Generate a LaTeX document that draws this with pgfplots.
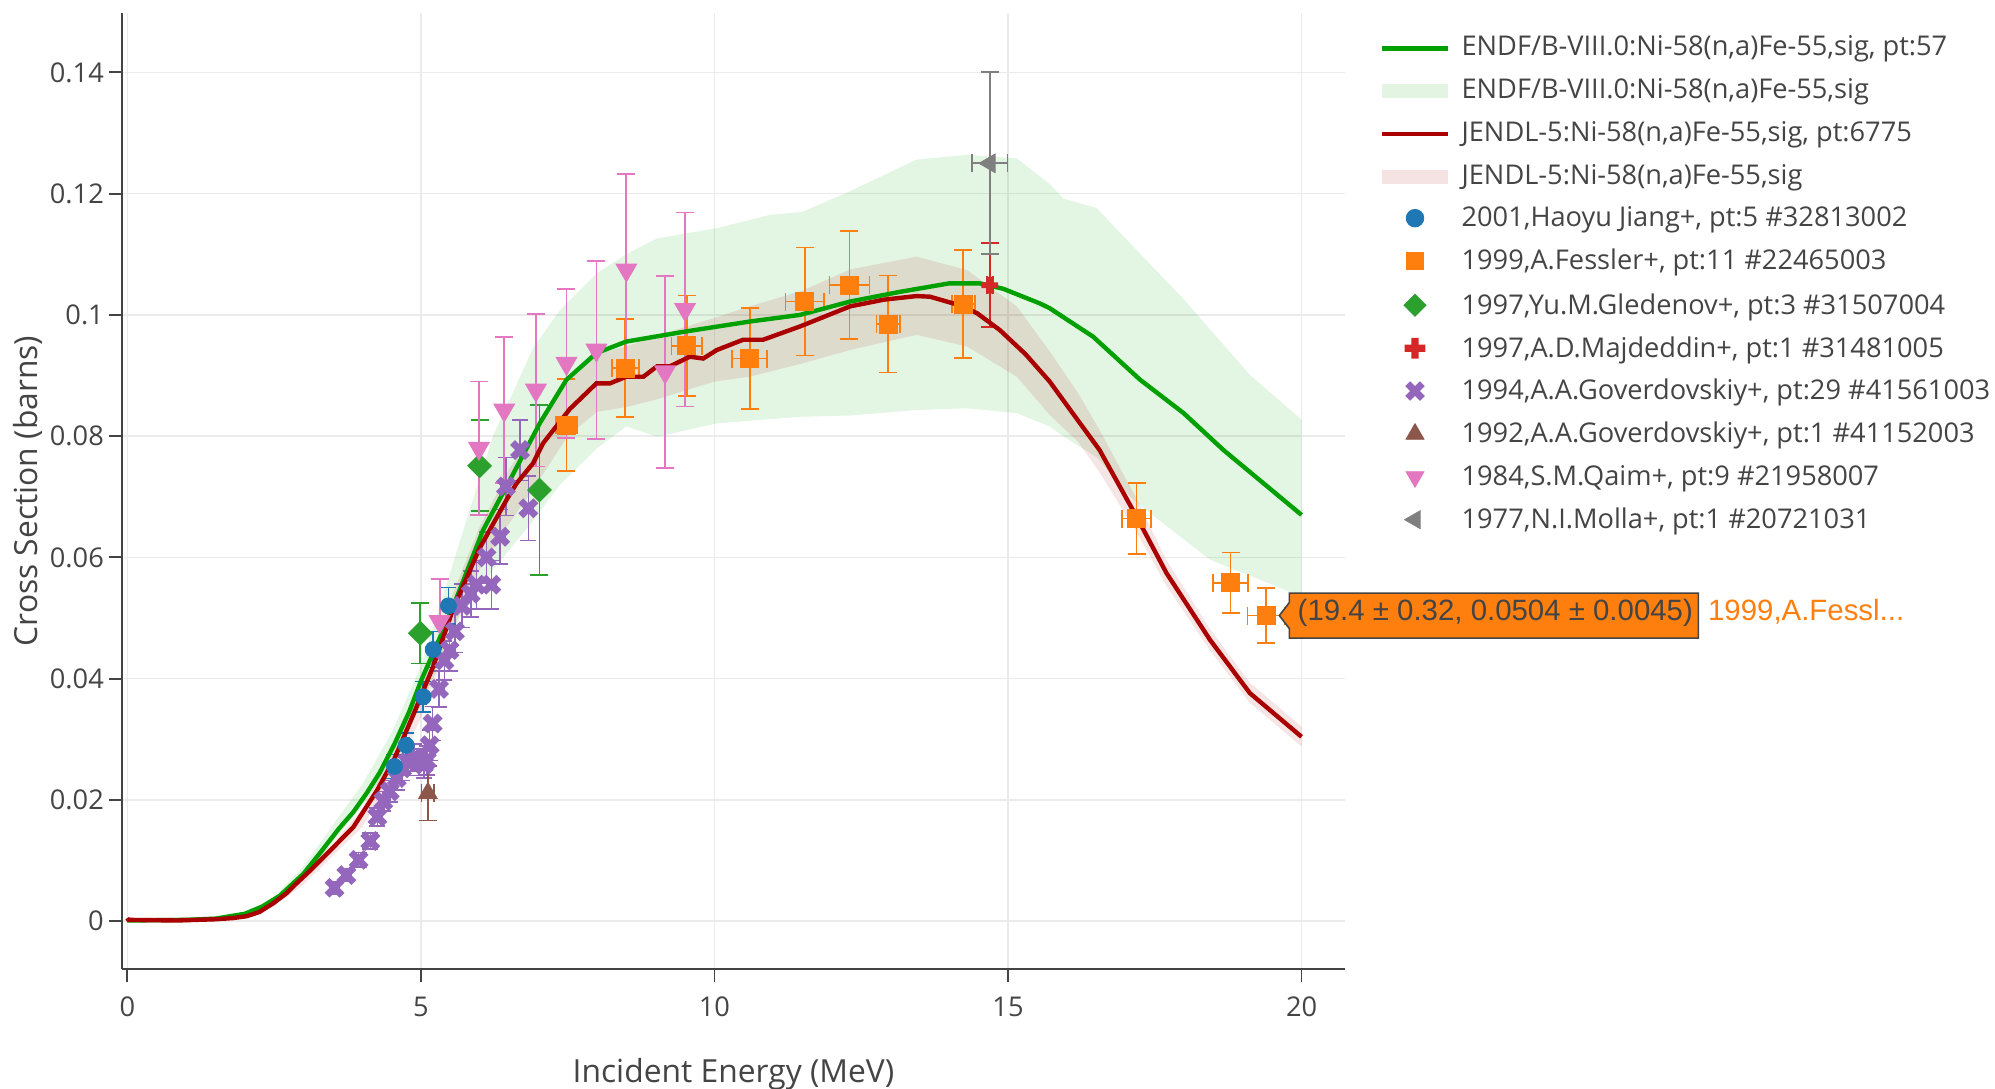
\documentclass[border=0pt]{standalone}
\usepackage{fontspec}
\setmainfont{Open Sans}
\newfontfamily\tipfont{Liberation Sans}
\usepackage{pgfplots}
\pgfplotsset{compat=1.18}
\usepgfplotslibrary{fillbetween}
\definecolor{endfgreen}{RGB}{0,160,0}
\definecolor{jendlred}{RGB}{170,0,0}
\definecolor{pblue}{HTML}{1F77B4}
\definecolor{porange}{HTML}{FF7F0E}
\definecolor{pgreen}{HTML}{2CA02C}
\definecolor{pred}{HTML}{D62728}
\definecolor{ppurple}{HTML}{9467BD}
\definecolor{pbrown}{HTML}{8C564B}
\definecolor{ppink}{HTML}{E377C2}
\definecolor{pgray}{HTML}{7F7F7F}
\definecolor{axgray}{HTML}{444444}
\definecolor{gridgray}{HTML}{EBEBEB}
\definecolor{gband}{HTML}{E3F4E3}
\definecolor{rband}{HTML}{F5E3E3}
\newcommand{\fs}{\fontsize{13.6}{16}\selectfont}
% fat X (plotly "x")
\pgfdeclareplotmark{fatx}{%
  \pgfmathsetlengthmacro\mP{0.9405*\pgfplotmarksize}%
  \pgfmathsetlengthmacro\mQ{0.4738*\pgfplotmarksize}%
  \pgfmathsetlengthmacro\mR{0.4667*\pgfplotmarksize}%
  \pgfpathmoveto{\pgfqpoint{-\mQ}{\mP}}%
  \pgfpathlineto{\pgfqpoint{0pt}{\mR}}%
  \pgfpathlineto{\pgfqpoint{\mQ}{\mP}}%
  \pgfpathlineto{\pgfqpoint{\mP}{\mQ}}%
  \pgfpathlineto{\pgfqpoint{\mR}{0pt}}%
  \pgfpathlineto{\pgfqpoint{\mP}{-\mQ}}%
  \pgfpathlineto{\pgfqpoint{\mQ}{-\mP}}%
  \pgfpathlineto{\pgfqpoint{0pt}{-\mR}}%
  \pgfpathlineto{\pgfqpoint{-\mQ}{-\mP}}%
  \pgfpathlineto{\pgfqpoint{-\mP}{-\mQ}}%
  \pgfpathlineto{\pgfqpoint{-\mR}{0pt}}%
  \pgfpathlineto{\pgfqpoint{-\mP}{\mQ}}%
  \pgfpathclose
  \pgfusepathqfill
}
% fat plus (plotly "cross")
\pgfdeclareplotmark{fatplus}{%
  \pgfmathsetlengthmacro\mL{\pgfplotmarksize}%
  \pgfmathsetlengthmacro\mA{0.34*\pgfplotmarksize}%
  \pgfpathmoveto{\pgfqpoint{\mA}{\mL}}%
  \pgfpathlineto{\pgfqpoint{\mA}{\mA}}%
  \pgfpathlineto{\pgfqpoint{\mL}{\mA}}%
  \pgfpathlineto{\pgfqpoint{\mL}{-\mA}}%
  \pgfpathlineto{\pgfqpoint{\mA}{-\mA}}%
  \pgfpathlineto{\pgfqpoint{\mA}{-\mL}}%
  \pgfpathlineto{\pgfqpoint{-\mA}{-\mL}}%
  \pgfpathlineto{\pgfqpoint{-\mA}{-\mA}}%
  \pgfpathlineto{\pgfqpoint{-\mL}{-\mA}}%
  \pgfpathlineto{\pgfqpoint{-\mL}{\mA}}%
  \pgfpathlineto{\pgfqpoint{-\mA}{\mA}}%
  \pgfpathlineto{\pgfqpoint{-\mA}{\mL}}%
  \pgfpathclose
  \pgfusepathqfill
}
% square diamond
\pgfdeclareplotmark{pdiamond}{%
  \pgfpathmoveto{\pgfqpoint{0pt}{\pgfplotmarksize}}%
  \pgfpathlineto{\pgfqpoint{\pgfplotmarksize}{0pt}}%
  \pgfpathlineto{\pgfqpoint{0pt}{-\pgfplotmarksize}}%
  \pgfpathlineto{\pgfqpoint{-\pgfplotmarksize}{0pt}}%
  \pgfpathclose
  \pgfusepathqfill
}
\newcommand{\lbox}{\path[draw=none,fill=none] (0pt,-6.5pt) rectangle (33pt,6.5pt);}
\begin{document}
\begin{tikzpicture}
\begin{axis}[
  scale only axis, width=611.5pt, height=478pt,
  xmin=-0.09, xmax=20.74, ymin=-0.0079, ymax=0.1498,
  axis x line*=bottom, axis y line*=left,
  axis line style={-, draw=axgray, line width=0.9pt},
  xtick={0,5,10,15,20}, xticklabels={0,5,10,15,20},
  ytick={0,0.02,0.04,0.06,0.08,0.1,0.12,0.14},
  yticklabels={0,0.02,0.04,0.06,0.08,0.1,0.12,0.14},
  tick align=outside, major tick length=6.4pt,
  tick style={draw=axgray, line width=0.9pt},
  grid=major, major grid style={draw=gridgray, line width=0.7pt},
  tick label style={font=\fs, text=axgray},
  yticklabel style={inner sep=0pt, xshift=-2.5pt},
  xticklabel style={inner sep=0pt, yshift=-7.2pt},
  xlabel={Incident Energy (MeV)}, ylabel={Cross Section (barns)},
  label style={font=\fontsize{15.9}{19}\selectfont, text=axgray},
  xlabel style={at={(axis description cs:0.5,-0.1096)}, anchor=center},
  ylabel style={at={(axis description cs:-0.0768,0.5)}, anchor=center},
  legend style={at={(1,1)}, anchor=north west, xshift=17.2pt, yshift=-11.65pt,
    draw=none, fill=none, inner sep=0pt, font=\fs, text=axgray, row sep=8.41pt,
    nodes={inner sep=0pt, text height=9.5pt, text depth=3.5pt},
    /tikz/every odd column/.append style={column sep=5.7pt}},
  legend cell align=left,
]
% ENDF band
\addplot[name path=gU, draw=none, forget plot] coordinates {
(0,0.0002) (1.5,0.0005) (2,0.0014) (2.5,0.0040) (3,0.0090) (3.5,0.0158) (4,0.0225)
(4.5,0.0310) (5,0.0420) (5.66,0.0625) (6.23,0.0800) (6.91,0.0945) (7.37,0.1008)
(8.0,0.1069) (8.5,0.1100) (9.02,0.1126) (10.04,0.1143) (10.95,0.1165) (11.5,0.1170)
(12.31,0.1204) (13.44,0.1256) (14.3,0.1264) (15.15,0.1258) (15.71,0.1216) (15.94,0.1192)
(16.51,0.1176) (18.0,0.1025) (19.12,0.0901) (20,0.0827)};
\addplot[name path=gL, draw=none, forget plot] coordinates {
(0,0.0000) (1.5,0.0003) (2,0.0010) (2.5,0.0030) (3,0.0070) (3.5,0.0130) (4,0.0190)
(4.5,0.0260) (5,0.0355) (5.66,0.0500) (6.23,0.0580) (6.91,0.0660) (7.37,0.0720)
(8.0,0.0780) (8.5,0.0816) (9.02,0.0799) (10.04,0.0821) (10.95,0.0828) (11.5,0.0832)
(12.31,0.0834) (13.44,0.0843) (14.3,0.0846) (15.15,0.0838) (15.71,0.0816) (15.94,0.0800)
(16.51,0.0765) (17.13,0.0695) (18.44,0.0596) (19.12,0.0570) (20,0.0535)};
\addplot[fill=endfgreen, fill opacity=0.11, draw=none, forget plot] fill between[of=gU and gL];
% JENDL band
\addplot[name path=rU, draw=none, forget plot] coordinates {
(0,0.0005) (2,0.0009) (2.5,0.0033) (3,0.0080) (3.5,0.0128) (4,0.0185) (4.5,0.0275)
(5,0.0385) (5.5,0.0530) (6,0.0650) (6.5,0.0745) (7,0.0815) (7.5,0.0888) (8,0.0935)
(8.5,0.0948) (9,0.0965) (10,0.0995) (10.6,0.1014) (11.5,0.1040) (12.31,0.1075)
(13.44,0.1096) (14.3,0.1074) (15.15,0.1014) (15.71,0.0940) (16.2,0.0870) (16.56,0.0810)
(17.2,0.0695) (17.7,0.0595) (18.44,0.0482) (19.12,0.0393) (20,0.0321)};
\addplot[name path=rL, draw=none, forget plot] coordinates {
(0,0.0001) (2,0.0005) (2.5,0.0025) (3,0.0060) (3.5,0.0108) (4,0.0155) (4.5,0.0235)
(5,0.0335) (5.5,0.0470) (6,0.0580) (6.5,0.0655) (7,0.0725) (7.5,0.0800) (8,0.0840)
(8.5,0.0848) (9,0.0860) (10,0.0890) (10.6,0.0898) (11.5,0.0920) (12.31,0.0942)
(13.44,0.0967) (14.3,0.0948) (15.15,0.0898) (15.71,0.0835) (16.2,0.0790) (16.56,0.0740)
(17.2,0.0640) (17.7,0.0553) (18.44,0.0447) (19.12,0.0360) (20,0.0288)};
\addplot[fill=jendlred, fill opacity=0.10, draw=none, forget plot] fill between[of=rU and rL];
% 1994 Goverdovskiy
\addplot[only marks, mark=fatx, mark size=5.3pt, color=ppurple, forget plot,
  error bars/.cd, x dir=both, x explicit, y dir=both, y explicit,
  error bar style={line width=0.8pt, ppurple}, error mark options={rotate=90, ppurple, mark size=4pt, line width=0.8pt}]
coordinates {
(3.53,0.0055) +- (0.08,0.0010) (3.73,0.0076) +- (0.08,0.0010) (3.94,0.0101) +- (0.08,0.0012)
(4.14,0.0132) +- (0.08,0.0013) (4.26,0.0172) +- (0.08,0.0015) (4.36,0.0198) +- (0.08,0.0016)
(4.47,0.0214) +- (0.08,0.0018) (4.59,0.0236) +- (0.08,0.0020) (4.68,0.0252) +- (0.08,0.0020)
(4.78,0.0262) +- (0.08,0.0022) (4.88,0.0270) +- (0.08,0.0022) (4.97,0.0262) +- (0.08,0.0022)
(5.05,0.0258) +- (0.08,0.0022) (5.10,0.0265) +- (0.08,0.0024) (5.15,0.0290) +- (0.08,0.0025)
(5.20,0.0326) +- (0.08,0.0028) (5.31,0.0383) +- (0.08,0.0030) (5.40,0.0430) +- (0.08,0.0032)
(5.49,0.0447) +- (0.08,0.0034) (5.58,0.0478) +- (0.08,0.0035) (5.70,0.0520) +- (0.08,0.0036)
(5.85,0.0540) +- (0.08,0.0038) (5.95,0.0555) +- (0.08,0.0040) (6.12,0.0600) +- (0.08,0.0042)
(6.20,0.0555) +- (0.08,0.0040) (6.35,0.0634) +- (0.08,0.0045) (6.45,0.0717) +- (0.08,0.0048)
(6.69,0.0777) +- (0.08,0.0050) (6.83,0.0681) +- (0.08,0.0053)};
% 2001 Jiang
\addplot[only marks, mark=*, mark size=4pt, color=pblue, forget plot,
  error bars/.cd, x dir=both, x explicit, y dir=both, y explicit,
  error bar style={line width=0.8pt, pblue}, error mark options={rotate=90, pblue, mark size=4pt, line width=0.8pt}]
coordinates {
(4.55,0.0255) +- (0.05,0.0020) (4.75,0.0290) +- (0.05,0.0020) (5.04,0.0370) +- (0.05,0.0025)
(5.21,0.0448) +- (0.05,0.0030) (5.47,0.0520) +- (0.05,0.0030)};
% 1999 Fessler
\addplot[only marks, mark=square*, mark size=4.5pt, color=porange, forget plot,
  error bars/.cd, x dir=both, x explicit, y dir=both, y explicit,
  error bar style={line width=0.9pt, porange}, error mark options={rotate=90, porange, mark size=4.5pt, line width=0.9pt}]
coordinates {
(7.48,0.0818) +- (0.18,0.0076) (8.48,0.0912) +- (0.23,0.0081) (9.53,0.0949) +- (0.26,0.0083)
(10.60,0.0928) +- (0.30,0.0083) (11.54,0.1022) +- (0.33,0.0089) (12.30,0.1049) +- (0.34,0.0089)
(12.96,0.0985) +- (0.20,0.0080) (14.24,0.1018) +- (0.20,0.0089) (17.19,0.0664) +- (0.25,0.0059)
(18.79,0.0558) +- (0.30,0.0050) (19.40,0.0504) +- (0.32,0.0045)};
% 1997 Gledenov
\addplot[only marks, mark=pdiamond, mark size=6.2pt, color=pgreen, forget plot,
  error bars/.cd, y dir=both, y explicit,
  error bar style={line width=0.9pt, pgreen}, error mark options={rotate=90, pgreen, mark size=4.5pt, line width=0.9pt}]
coordinates {(4.99,0.0475) +- (0,0.0050) (6.00,0.0751) +- (0,0.0075) (7.02,0.0711) +- (0,0.0140)};
% 1997 Majdeddin
\addplot[only marks, mark=fatplus, mark size=4.2pt, color=pred, forget plot,
  error bars/.cd, x dir=both, x explicit, y dir=both, y explicit,
  error bar style={line width=0.9pt, pred}, error mark options={rotate=90, pred, mark size=4.5pt, line width=0.9pt}]
coordinates {(14.69,0.1049) +- (0.05,0.0069)};
% 1992 Goverdovskiy
\addplot[only marks, mark=triangle*, mark size=5.4pt, color=pbrown, forget plot,
  error bars/.cd, x dir=both, x explicit, y dir=both, y explicit,
  error bar style={line width=0.9pt, pbrown}, error mark options={rotate=90, pbrown, mark size=4.5pt, line width=0.9pt}]
coordinates {(5.12,0.0211) +- (0.11,0.0045)};
% 1984 Qaim
\addplot[only marks, mark=triangle*, mark size=6pt, color=ppink, mark options={rotate=180}, forget plot,
  error bars/.cd, y dir=both, y explicit,
  error bar style={line width=0.9pt, ppink}, error mark options={rotate=90, ppink, mark size=4.5pt, line width=0.9pt}]
coordinates {
(5.32,0.0494) +- (0,0.0070) (5.99,0.0780) +- (0,0.0110) (6.42,0.0843) +- (0,0.0120)
(6.96,0.0876) +- (0,0.0126) (7.48,0.0920) +- (0,0.0123) (7.99,0.0942) +- (0,0.0147)
(8.50,0.1074) +- (0,0.0159) (9.16,0.0906) +- (0,0.0158) (9.50,0.1009) +- (0,0.0160)};
% 1977 Molla
\addplot[only marks, mark=triangle*, mark size=5.4pt, color=pgray, mark options={rotate=90}, forget plot,
  error bars/.cd, x dir=both, x explicit, y dir=both, y explicit,
  error bar style={line width=0.9pt, pgray}, error mark options={rotate=90, pgray, mark size=4.5pt, line width=0.9pt}]
coordinates {(14.69,0.1250) +- (0.30,0.0150)};
% ENDF line
\addplot[endfgreen, line width=2.2pt, forget plot] coordinates {
(0,0.0001) (1,0.0002) (1.5,0.0004) (2,0.0012) (2.3,0.0024) (2.6,0.0042) (3,0.0078) (3.28,0.0112)
(3.6,0.0152) (3.85,0.0180) (4.07,0.0210) (4.3,0.0245) (4.55,0.0292) (4.8,0.0345) (5.01,0.0398)
(5.3,0.0462) (5.55,0.0519) (6.06,0.0645)
(6.52,0.0728) (7.03,0.0822) (7.48,0.0893) (7.99,0.0937) (8.5,0.0956) (9.47,0.0972)
(10.6,0.0989) (11.46,0.1000) (12.31,0.1022) (13.16,0.1038) (14.0,0.1052) (14.52,0.1052)
(14.92,0.1043) (15.54,0.1019) (15.71,0.1011) (16.45,0.0964) (17.25,0.0893) (17.99,0.0838)
(18.67,0.0777) (20,0.0670)};
% JENDL line
\addplot[jendlred, line width=2.2pt, forget plot] coordinates {
(0,0.0005) (0.02,0.0002) (0.84,0.0001) (1.5,0.0003) (1.8,0.0005) (2.03,0.0008) (2.25,0.0015)
(2.48,0.0029) (2.7,0.0045) (2.88,0.0062) (3.1,0.0082)
(3.39,0.0110) (3.85,0.0155) (4.25,0.0215) (4.55,0.0268) (4.87,0.0340) (5.21,0.0420) (5.55,0.0515)
(6.0,0.0615) (6.46,0.0695) (6.63,0.0722) (6.91,0.0755) (7.08,0.0788) (7.54,0.0845)
(7.99,0.0887) (8.22,0.0887) (8.5,0.0898) (8.79,0.0898) (9.02,0.0915) (9.24,0.0915)
(9.58,0.0931) (9.81,0.0928) (10.04,0.0942) (10.49,0.0959) (10.83,0.0959) (11.46,0.0981)
(12.31,0.1014) (12.88,0.1025) (13.44,0.1031) (13.67,0.1030) (14.1,0.1018) (14.47,0.1003)
(14.86,0.0975) (15.3,0.0935) (15.71,0.0890) (16.1,0.0838) (16.56,0.0777) (17.19,0.0667)
(17.70,0.0574) (18.44,0.0464) (19.12,0.0376) (20.0,0.0304)};
\coordinate (tt) at (axis cs:19.4,0.0504);
% legend
\addlegendimage{legend image code/.code={\lbox \draw[endfgreen, line width=2.2pt] (0pt,0.6pt) -- (33pt,0.6pt);}}
\addlegendentry{ENDF/B-VIII.0:Ni-58(n,a)Fe-55,sig, pt:57}
\addlegendimage{legend image code/.code={\lbox \fill[gband, draw=none] (0pt,-2.9pt) rectangle (33pt,4.1pt);}}
\addlegendentry{ENDF/B-VIII.0:Ni-58(n,a)Fe-55,sig}
\addlegendimage{legend image code/.code={\lbox \draw[jendlred, line width=2.2pt] (0pt,0.6pt) -- (33pt,0.6pt);}}
\addlegendentry{JENDL-5:Ni-58(n,a)Fe-55,sig, pt:6775}
\addlegendimage{legend image code/.code={\lbox \fill[rband, draw=none] (0pt,-2.9pt) rectangle (33pt,4.1pt);}}
\addlegendentry{JENDL-5:Ni-58(n,a)Fe-55,sig}
\addlegendimage{legend image code/.code={\lbox \draw[only marks, mark=*, mark size=4.4pt, pblue] plot coordinates {(16.5pt,1.4pt)};}}
\addlegendentry{2001,Haoyu Jiang+, pt:5 \#32813002}
\addlegendimage{legend image code/.code={\lbox \draw[only marks, mark=square*, mark size=4.4pt, porange] plot coordinates {(16.5pt,1.4pt)};}}
\addlegendentry{1999,A.Fessler+, pt:11 \#22465003}
\addlegendimage{legend image code/.code={\lbox \draw[only marks, mark=pdiamond, mark size=5.8pt, pgreen, fill=pgreen] plot coordinates {(16.5pt,1.4pt)};}}
\addlegendentry{1997,Yu.M.Gledenov+, pt:3 \#31507004}
\addlegendimage{legend image code/.code={\lbox \draw[only marks, mark=fatplus, mark size=5.2pt, pred, fill=pred] plot coordinates {(16.5pt,1.4pt)};}}
\addlegendentry{1997,A.D.Majdeddin+, pt:1 \#31481005}
\addlegendimage{legend image code/.code={\lbox \draw[only marks, mark=fatx, mark size=5.2pt, ppurple, fill=ppurple] plot coordinates {(16.5pt,1.4pt)};}}
\addlegendentry{1994,A.A.Goverdovskiy+, pt:29 \#41561003}
\addlegendimage{legend image code/.code={\lbox \draw[only marks, mark=triangle*, mark size=5.2pt, pbrown] plot coordinates {(16.5pt,1.4pt)};}}
\addlegendentry{1992,A.A.Goverdovskiy+, pt:1 \#41152003}
\addlegendimage{legend image code/.code={\lbox \draw[only marks, mark=triangle*, mark size=5.2pt, ppink, mark options={rotate=180}] plot coordinates {(16.5pt,1.4pt)};}}
\addlegendentry{1984,S.M.Qaim+, pt:9 \#21958007}
\addlegendimage{legend image code/.code={\lbox \draw[only marks, mark=triangle*, mark size=5.2pt, pgray, mark options={rotate=90}] plot coordinates {(16.5pt,1.4pt)};}}
\addlegendentry{1977,N.I.Molla+, pt:1 \#20721031}
\end{axis}
\begin{scope}[shift={(tt)}]
\draw[fill=porange, draw=axgray, line width=0.8pt] (6.5pt,0pt) -- (11.5pt,6.5pt) -- (11.5pt,11.25pt) -- (216pt,11.25pt) -- (216pt,-11.25pt) -- (11.5pt,-11.25pt) -- (11.5pt,-6.5pt) -- cycle;
\node[anchor=mid west, text=axgray, font=\tipfont\fontsize{14.7}{17}\selectfont, inner sep=0pt] at (15.5pt,0pt) {(19.4 ± 0.32, 0.0504 ± 0.0045)};
\node[anchor=mid west, text=porange, font=\tipfont\fontsize{14.7}{17}\selectfont, inner sep=0pt] at (220.7pt,0pt) {1999,A.Fessl...};
\end{scope}
\pgfresetboundingbox
\path (current axis.south west) ++(-61pt,-60pt) rectangle ([shift={(325pt,6.5pt)}]current axis.north east);
\end{tikzpicture}
\end{document}
